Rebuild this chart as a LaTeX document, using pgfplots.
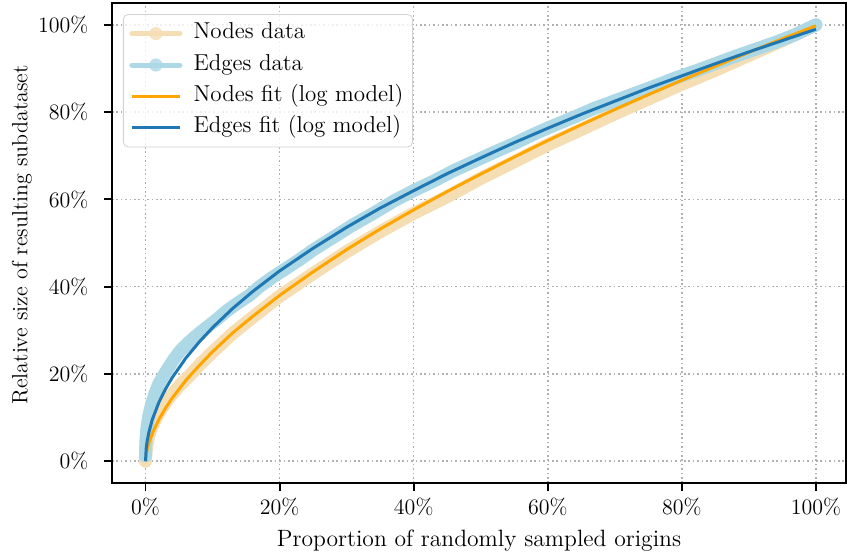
\documentclass[border=0pt]{standalone}
\usepackage{pgfplots}
\pgfplotsset{compat=1.18}
\definecolor{wheatc}{HTML}{F5DEB3}
\definecolor{lblue}{HTML}{ADD8E6}
\definecolor{orangec}{HTML}{FFA500}
\definecolor{tabblue}{HTML}{1F77B4}
\definecolor{gridc}{HTML}{B0B0B0}

\begin{document}
\begin{tikzpicture}[font=\fontsize{11.8}{14}\selectfont]
\begin{axis}[
  scale only axis, width=367pt, height=240pt,
  xmin=-5, xmax=104.48, ymin=-5, ymax=105,
  xtick={0,20,...,100}, ytick={0,20,...,100},
  xticklabel={\pgfmathprintnumber{\tick}\%},
  yticklabel={\pgfmathprintnumber{\tick}\%},
  /pgf/number format/assume math mode=true,
  tick label style={font=\fontsize{11}{13}\selectfont},
  yticklabel style={xshift=-4.3pt},
  xtick pos=lower, ytick pos=left,
  tick align=outside, major tick length=4pt,
  tick style={black, line width=0.9pt},
  axis line style={line width=0.9pt},
  grid=major,
  major grid style={gridc, line width=0.8pt, dash pattern=on 0.8pt off 1.4pt},
  xlabel={Proportion of randomly sampled origins},
  ylabel={Relative size of resulting subdataset},
  every axis y label/.style={at={(axis description cs:-0.1226,0.517)}, rotate=90,
    anchor=center, font=\fontsize{11}{13}\selectfont},
  legend cell align=left,
  legend style={at={(0,1)}, anchor=north west, xshift=5.5pt, yshift=-5.5pt,
    draw=gray!35, rounded corners=2.5pt, fill=white, fill opacity=0.8,
    text opacity=1, inner xsep=3pt, inner ysep=3pt, row sep=2.5pt,
    font=\fontsize{11.5}{14}\selectfont,
    nodes={text height=0.75em, text depth=0.25em, inner sep=1.6pt},
    /tikz/every odd column/.append style={column sep=4pt}},
]
\coordinate (sw) at (rel axis cs:0,0);

% Nodes data
\addplot[wheatc, line width=6.5pt, line cap=round, line join=round,
  legend image code/.code={\draw[wheatc, line width=2.5pt] (0pt,0pt) -- (24pt,0pt);
    \path[fill=wheatc, draw=none, line width=0pt] (12pt,0pt) circle (3.3pt);}] coordinates {
(0,0) (0.05,1.5) (0.15,3) (0.3,4.5) (0.6,6.5) (1,8) (1.6,10) (2.5,12.3)
(3.5,14.5) (5,17.2) (6.5,19.5) (8,22) (10,25) (13,29.3) (16,33) (20,37.8)
(25,43) (30,48) (35,52.6) (40,56.8) (45,60.6) (50,64.8) (55,68.6) (60,72.5)
(65,76) (70,79.6) (75,83) (80,86.4) (85,89.6) (90,93) (95,96.4) (100,100)
};
\addlegendentry{Nodes data}

% Edges data
\addplot[lblue, line width=6.5pt, line cap=round, line join=round,
  legend image code/.code={\draw[lblue, line width=2.5pt] (0pt,0pt) -- (24pt,0pt);
    \path[fill=lblue, draw=none, line width=0pt] (12pt,0pt) circle (3.3pt);}] coordinates {
(0,1.2) (0.05,4.5) (0.2,7.5) (0.5,10.5) (0.9,13) (1.4,15.5) (2,17.8) (3,20.4)
(4.2,23.3) (5.2,25.3) (6.5,27.3) (8,29.3) (10.4,32.2) (12,34.3)
(13.7,36.2) (15.5,38) (17,40) (19,42.2) (21,44.2) (23,46.2) (25,48.4)
(28,51.3) (31,54.2) (34,56.8) (37,59.6) (40,62) (43,64.2) (46,66.6)
(49,68.7) (52,70.8) (55,72.8) (58,75) (61,77) (64,78.9) (67,80.9)
(70,82.6) (73,84.3) (76,86) (79,87.8) (82,89.4) (85,91.1) (88,92.8)
(91,94.4) (94,96) (97,97.8) (100,100)
};
\addlegendentry{Edges data}

% Nodes fit
\addplot[orangec, line width=1.5pt, line join=round,
  legend image code/.code={\draw[orangec, line width=1.5pt] (0pt,0pt) -- (24pt,0pt);}] coordinates {
(0,0) (0.1,1.6) (0.25,2.7) (0.5,4.2) (1,6.3) (2,9.6) (3,12.2) (4,14.5)
(6,18.5) (8,21.9) (10,25.1) (13,29.4) (16,33.2) (20,38.0) (25,43.4)
(30,48.5) (35,53.2) (40,57.6) (45,61.8) (50,65.8) (55,69.7) (60,73.5)
(65,77.1) (70,80.6) (75,84.0) (80,87.3) (85,90.5) (90,93.7) (95,96.8) (100,99.8)
};
\addlegendentry{Nodes fit (log model)}

% Edges fit
\addplot[tabblue, line width=1.5pt, line join=round,
  legend image code/.code={\draw[tabblue, line width=1.5pt] (0pt,0pt) -- (24pt,0pt);}] coordinates {
(0,0) (0.1,2.9) (0.25,4.7) (0.5,6.6) (1,9.5) (2,13.5) (3,16.6) (4,19.2)
(6,23.6) (8,27.3) (10,30.6) (13,35.0) (16,38.9) (20,43.6) (25,48.8)
(30,53.6) (35,58.0) (40,62.0) (45,65.9) (50,69.5) (55,73.0) (60,76.3)
(65,79.5) (70,82.5) (75,85.5) (80,88.3) (85,91.1) (90,93.8) (95,96.4) (100,99.0)
};
\addlegendentry{Edges fit (log model)}
\end{axis}
\pgfresetboundingbox
\path (sw) ++(-56pt,-35pt) rectangle ++(423.5pt,276.5pt);
\end{tikzpicture}
\end{document}
